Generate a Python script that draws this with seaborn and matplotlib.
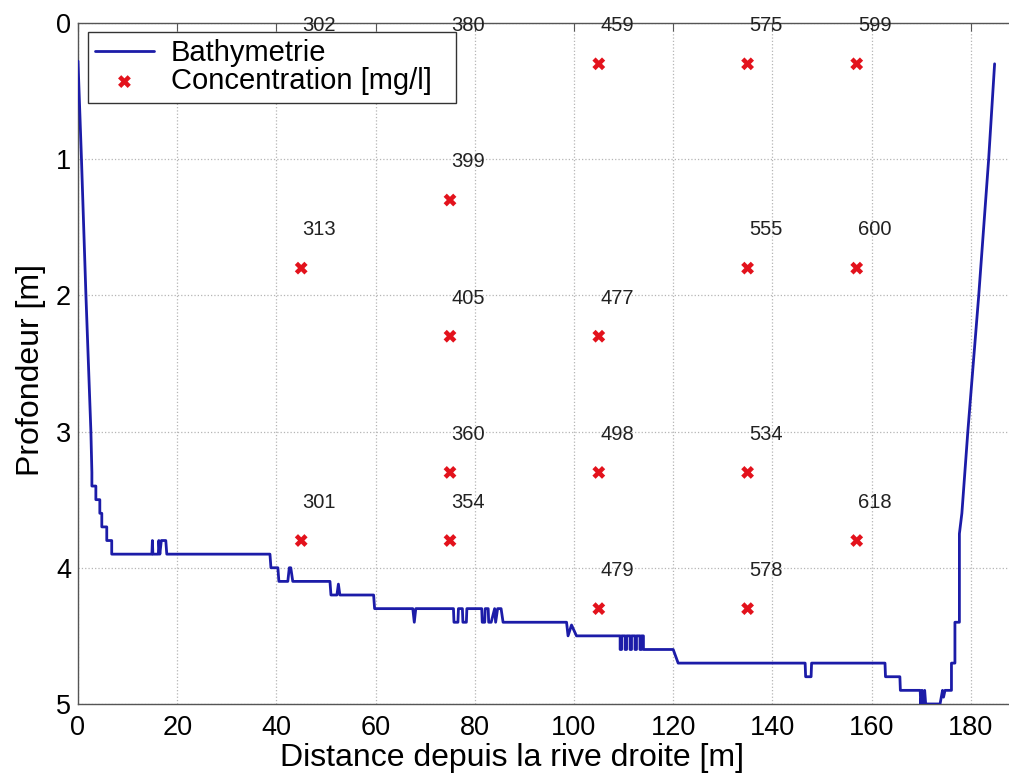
import numpy as np
import pandas as pd
import seaborn as sns
import matplotlib.pyplot as plt

# Bathymetrie : distance [m] et profondeur [m] (sommets)
bathy_dist = [0, 0.7, 1.6, 2.6, 2.8, 2.8, 3.6, 3.6, 4.4, 4.4, 4.8, 4.8, 5.8, 5.8, 6.8, 6.8,
              14.9, 15.0, 15.1, 16.2, 16.3, 16.5, 16.8, 17.7, 17.9,
              38.7, 38.9, 40.3, 40.5, 42.3, 42.6, 42.9, 43.3,
              50.8, 51.0, 52.2, 52.5, 52.8, 59.6, 59.8,
              67.5, 67.8, 68.1, 75.7, 75.8, 76.6, 76.7, 77.5, 77.6, 78.3, 78.4,
              81.4, 81.5, 82.0, 82.1, 82.7, 82.8, 83.3, 84.0, 84.2, 84.6, 85.3, 85.7,
              98.5, 98.8, 99.5, 100.5,
              109.3, 109.3, 109.6, 109.6, 110.3, 110.3, 110.6, 110.6, 111.3, 111.3, 111.6, 111.6,
              112.3, 112.3, 112.6, 112.6, 113.3, 113.3, 113.6, 113.6, 114.0, 114.0,
              120.0, 121.0, 146.6, 146.7, 147.8, 147.9,
              162.7, 162.8, 165.7, 165.8, 169.8, 169.9, 170.2, 170.4, 170.7, 170.9,
              173.8, 174.3, 174.5, 174.8, 176.1, 176.1, 176.8, 176.8, 177.7, 177.7,
              178.2, 179.4, 181.6, 183.6, 184.8]
bathy_depth = [0.28, 1.0, 2.0, 3.0, 3.3, 3.4, 3.4, 3.5, 3.5, 3.6, 3.6, 3.7, 3.7, 3.8, 3.8, 3.9,
               3.9, 3.8, 3.9, 3.9, 3.8, 3.9, 3.8, 3.8, 3.9,
               3.9, 4.0, 4.0, 4.1, 4.1, 4.0, 4.0, 4.1,
               4.1, 4.2, 4.2, 4.12, 4.2, 4.2, 4.3,
               4.3, 4.4, 4.3, 4.3, 4.4, 4.4, 4.3, 4.3, 4.4, 4.4, 4.3,
               4.3, 4.4, 4.4, 4.3, 4.3, 4.4, 4.4, 4.3, 4.4, 4.3, 4.3, 4.4,
               4.4, 4.5, 4.42, 4.5,
               4.5, 4.6, 4.6, 4.5, 4.5, 4.6, 4.6, 4.5, 4.5, 4.6, 4.6, 4.5,
               4.5, 4.6, 4.6, 4.5, 4.5, 4.6, 4.6, 4.5, 4.5, 4.6,
               4.6, 4.7, 4.7, 4.8, 4.8, 4.7,
               4.7, 4.8, 4.8, 4.9, 4.9, 5.0, 4.9, 5.0, 4.9, 5.0,
               5.0, 4.9, 4.95, 4.9, 4.9, 4.7, 4.7, 4.4, 4.4, 3.75,
               3.6, 3.0, 2.0, 1.0, 0.3]

# Points de mesure de concentration
conc_dist = [45, 45, 45, 75, 75, 75, 75, 75, 105, 105, 105, 105, 135, 135, 135, 135, 157, 157, 157]
conc_depth = [0.3, 1.8, 3.8, 0.3, 1.3, 2.3, 3.3, 3.8, 0.3, 2.3, 3.3, 4.3, 0.3, 1.8, 3.3, 4.3, 0.3, 1.8, 3.8]
conc_value = [302, 313, 301, 380, 399, 405, 360, 354, 459, 477, 498, 479, 575, 555, 534, 578, 599, 600, 618]

bathy = pd.DataFrame({"dist": bathy_dist, "depth": bathy_depth})
conc = pd.DataFrame({"dist": conc_dist, "depth": conc_depth, "value": conc_value})

sns.set_style("white")
plt.rcParams["font.family"] = ["Liberation Sans", "DejaVu Sans"]
plt.rcParams["text.color"] = "black"
plt.rcParams["axes.labelcolor"] = "black"
plt.rcParams["xtick.labelcolor"] = "black"
plt.rcParams["ytick.labelcolor"] = "black"

fig = plt.figure(figsize=(10.09, 7.73), dpi=100)
ax = fig.add_axes([0.0773, 0.0893, 0.934, 0.881])

sns.lineplot(data=bathy, x="dist", y="depth", sort=False, estimator=None,
             color="#1c1ca8", linewidth=2.0, label="Bathymetrie", ax=ax, zorder=3)
sns.scatterplot(data=conc, x="dist", y="depth", marker="X", s=85, color="#e3121c",
                edgecolor="none", label="Concentration [mg/l]", ax=ax, zorder=4)

for d, p, v in zip(conc_dist, conc_depth, conc_value):
    ax.text(d + 0.3, p - 0.28, str(v), fontsize=14.5, ha="left", va="center",
            color="#222222", clip_on=False, zorder=5)

ax.set_xlim(0, 190)
ax.set_ylim(5, 0)
ax.set_xticks(range(0, 181, 20))
ax.set_yticks(range(0, 6))
ax.grid(True, linestyle=":", color="#b5b5b5", linewidth=0.9)
ax.tick_params(direction="in", length=6, top=True, right=True, labelsize=19.5,
               color="#555555", labelcolor="black")
ax.tick_params(axis="x", pad=8)
ax.tick_params(axis="y", pad=5)
for s in ax.spines.values():
    s.set_color("#555555")
    s.set_linewidth(1.0)

ax.set_xlabel("Distance depuis la rive droite [m]", fontsize=23)
ax.set_ylabel("Profondeur [m]", fontsize=23)
ax.xaxis.set_label_coords(0.46, -0.058)
ax.yaxis.set_label_coords(-0.034, 0.49)

leg = ax.legend(loc="upper left", bbox_to_anchor=(0.0106, 0, 0.3905, 0.9868),
                mode="expand", fontsize=21, fancybox=False, framealpha=1,
                edgecolor="#333333", borderaxespad=0, borderpad=0.25,
                labelspacing=0.0, handlelength=2.0, handletextpad=0.6)
leg.get_frame().set_linewidth(1.0)
leg.set_zorder(10)

plt.savefig("out.png", dpi=100)
plt.close()
